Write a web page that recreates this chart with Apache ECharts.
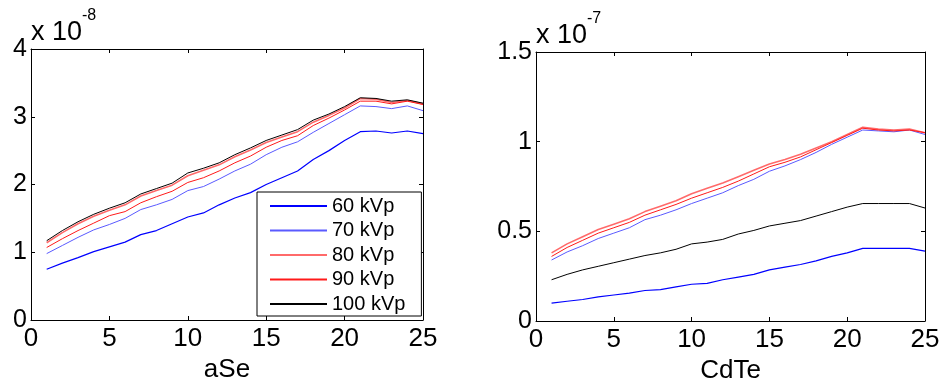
<!DOCTYPE html>
<html>
<head>
<meta charset="utf-8">
<script src="https://cdn.jsdelivr.net/npm/echarts@6/dist/echarts.min.js"></script>
<style>
html,body{margin:0;padding:0;background:#fff;}
#c{width:941px;height:380px;}
</style>
</head>
<body>
<div id="c"></div>
<script>
// x positions (shared)
const xs = [1,2,3,4,5,6,7,8,9,10,11,12,13,14,15,16,17,18,19,20,21,22,23,24,25];
const seriesNames = ['60 kVp','70 kVp','80 kVp','90 kVp','100 kVp'];
const xTicks = [0,5,10,15,20,25];
// aSe panel, values in units of 1e-8
const aSe60  = [0.75,0.84,0.92,1.01,1.08,1.15,1.26,1.32,1.42,1.52,1.58,1.70,1.80,1.88,2.00,2.10,2.20,2.37,2.50,2.65,2.78,2.79,2.76,2.79,2.75];
const aSe70  = [0.98,1.10,1.22,1.33,1.41,1.50,1.63,1.70,1.78,1.91,1.97,2.08,2.20,2.30,2.44,2.55,2.63,2.77,2.90,3.03,3.16,3.15,3.12,3.16,3.09];
const aSe80  = [1.14,1.29,1.42,1.53,1.62,1.70,1.83,1.91,1.99,2.13,2.21,2.29,2.41,2.51,2.62,2.70,2.78,2.92,3.02,3.13,3.27,3.26,3.21,3.24,3.19];
const aSe90  = [1.07,1.20,1.32,1.43,1.54,1.60,1.73,1.82,1.90,2.03,2.10,2.20,2.32,2.42,2.55,2.65,2.72,2.87,2.98,3.10,3.23,3.23,3.19,3.23,3.18];
const aSe100 = [1.17,1.32,1.45,1.56,1.65,1.73,1.86,1.94,2.02,2.17,2.24,2.32,2.44,2.54,2.65,2.73,2.81,2.95,3.04,3.15,3.28,3.27,3.23,3.25,3.20];
const aSeTicks = [0,1,2,3,4];
// CdTe panel, values in units of 1e-7
const cdte60  = [0.10,0.11,0.12,0.135,0.145,0.155,0.17,0.175,0.19,0.205,0.21,0.23,0.245,0.26,0.285,0.30,0.315,0.335,0.36,0.38,0.405,0.405,0.405,0.405,0.39];
const cdte70  = [0.34,0.385,0.42,0.46,0.49,0.52,0.565,0.59,0.62,0.655,0.685,0.715,0.755,0.79,0.835,0.865,0.90,0.94,0.985,1.025,1.065,1.06,1.055,1.065,1.04];
const cdte80  = [0.38,0.43,0.47,0.51,0.54,0.57,0.61,0.64,0.67,0.71,0.74,0.77,0.805,0.84,0.875,0.90,0.93,0.965,1.0,1.04,1.08,1.07,1.065,1.07,1.05];
const cdte90  = [0.36,0.41,0.45,0.49,0.52,0.55,0.59,0.62,0.65,0.685,0.715,0.745,0.78,0.82,0.86,0.885,0.915,0.955,0.995,1.035,1.075,1.065,1.06,1.065,1.05];
const cdte100 = [0.23,0.26,0.285,0.305,0.325,0.345,0.365,0.38,0.40,0.43,0.44,0.455,0.485,0.505,0.53,0.545,0.56,0.585,0.61,0.635,0.655,0.655,0.655,0.655,0.63];
const cdteTicks = [0,0.5,1,1.5];

const FONT = '"Liberation Sans", Arial, sans-serif';
const colors = ['#0000ff','#5a5aff','#ff6a6a','#ff1a1a','#000000'];
const widths = [1.2,1,1.6,1,1];

function pairs(vals){ return xs.map((x,i)=>[x, vals[i]]); }

const aSeData = [aSe60,aSe70,aSe80,aSe90,aSe100];
const cdteData = [cdte60,cdte70,cdte80,cdte90,cdte100];

const chart = echarts.init(document.getElementById('c'), null, {renderer:'canvas'});

function xAx(grid, pos, showLabel, name){
  return {
    type:'value', gridIndex:grid, position:pos, min:xTicks[0], max:xTicks[xTicks.length-1], interval:5,
    axisLine:{show:true, onZero:false, lineStyle:{color:'#000', width:1}},
    axisTick:{show:true, inside:true, length:4, lineStyle:{color:'#000'}},
    axisLabel:{show:showLabel, color:'#000', fontSize:26, fontFamily:FONT, margin:6},
    splitLine:{show:false},
    name: name || '', nameLocation:'middle', nameGap:36,
    nameTextStyle:{color:'#000', fontSize:26, fontFamily:FONT}
  };
}
function yAx(grid, pos, showLabel, ticks, interval){
  return {
    type:'value', gridIndex:grid, position:pos, min:ticks[0], max:ticks[ticks.length-1], interval:interval,
    axisLine:{show:true, onZero:false, lineStyle:{color:'#000', width:1}},
    axisTick:{show:true, inside:true, length:4, lineStyle:{color:'#000'}},
    axisLabel:{show:showLabel, color:'#000', fontSize:25, fontFamily:FONT, margin:4},
    splitLine:{show:false}
  };
}

const series = [];
seriesNames.forEach((n,i)=>{
  series.push({name:n, type:'line', xAxisIndex:0, yAxisIndex:0, data:pairs(aSeData[i]),
    symbol:'none', lineStyle:{color:colors[i], width:widths[i]}, itemStyle:{color:colors[i]}, animation:false, z:2+i});
});
seriesNames.forEach((n,i)=>{
  series.push({name:n, type:'line', xAxisIndex:2, yAxisIndex:2, data:pairs(cdteData[i]),
    symbol:'none', lineStyle:{color:colors[i], width:widths[i]}, itemStyle:{color:colors[i]}, animation:false, z:2+i});
});

chart.setOption({
  animation:false,
  backgroundColor:'#fff',
  grid:[
    {left:31, right:518, top:49, bottom:60, containLabel:false, outerBoundsMode:'none'},
    {left:536, right:16, top:52, bottom:59, containLabel:false, outerBoundsMode:'none'}
  ],
  xAxis:[
    xAx(0,'bottom',true,'aSe'), xAx(0,'top',false),
    xAx(1,'bottom',true,'CdTe'), xAx(1,'top',false)
  ],
  yAxis:[
    yAx(0,'left',true,aSeTicks,1), yAx(0,'right',false,aSeTicks,1),
    yAx(1,'left',true,cdteTicks,0.5), yAx(1,'right',false,cdteTicks,0.5)
  ],
  legend:{
    data:seriesNames, orient:'vertical', left:257, top:192,
    padding:[4,16,2,12], itemGap:4.5, itemWidth:57, itemHeight:14,
    backgroundColor:'#fff', borderColor:'#000', borderWidth:1, borderRadius:0,
    itemStyle:{opacity:0, borderWidth:0},
    textStyle:{color:'#000', fontSize:20, fontFamily:FONT, lineHeight:18},
    selectedMode:false, z:3
  },
  graphic:[
    {type:'text', left:31, top:19, z:100, style:{text:'x 10', font:'27px '+FONT, fill:'#000'}},
    {type:'text', left:82, top:8, z:100, style:{text:'-8', font:'16px '+FONT, fill:'#000'}},
    {type:'text', left:536, top:22, z:100, style:{text:'x 10', font:'27px '+FONT, fill:'#000'}},
    {type:'text', left:587, top:11, z:100, style:{text:'-7', font:'16px '+FONT, fill:'#000'}}
  ],
  series:series
});
</script>
</body>
</html>
